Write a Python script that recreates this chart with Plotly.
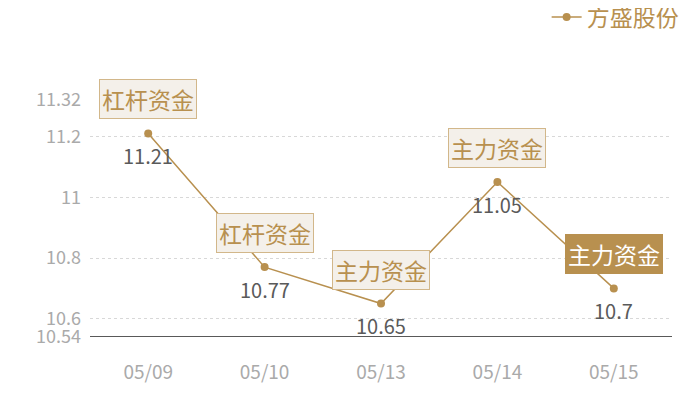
import plotly.graph_objects as go

# data
dates = ["05/09", "05/10", "05/13", "05/14", "05/15"]
prices = [11.21, 10.77, 10.65, 11.05, 10.7]
flow_tags = ["杠杆资金", "杠杆资金", "主力资金", "主力资金", "主力资金"]
y_ticks = [10.54, 10.6, 10.8, 11, 11.2, 11.32]
y_tick_labels = ["10.54", "10.6", "10.8", "11", "11.2", "11.32"]

GOLD = "#b8904f"
FONT = "Noto Sans CJK SC"

fig = go.Figure()
fig.add_trace(
    go.Scatter(
        x=dates,
        y=prices,
        name="方盛股份",
        mode="lines+markers",
        line=dict(color=GOLD, width=1.5),
        marker=dict(color=GOLD, size=8),
        cliponaxis=False,
    )
)

for i, (d, p, tag) in enumerate(zip(dates, prices, flow_tags)):
    # value under the point
    fig.add_annotation(
        x=d,
        y=p,
        text=str(p),
        showarrow=False,
        yshift=-22,
        font=dict(color="#5a5a5a", size=20, family=FONT),
    )
    # tag box above the point, the last one highlighted
    last = i == len(dates) - 1
    fig.add_annotation(
        x=d,
        y=p,
        text=tag,
        showarrow=False,
        yshift=34,
        font=dict(color="white" if last else GOLD, size=23, family=FONT),
        bgcolor=GOLD if last else "#f4f0ea",
        bordercolor=GOLD if last else "#d2b78a",
        borderwidth=1,
        borderpad=2,
    )

# the page body adds an 8px offset, so the figure is 8px smaller
fig.update_layout(
    width=692,
    height=392,
    margin=dict(l=82, r=28, t=92, b=63, autoexpand=False),
    plot_bgcolor="white",
    paper_bgcolor="white",
    font=dict(family=FONT),
    showlegend=True,
    legend=dict(
        x=1.02,
        y=1.35,
        xanchor="right",
        yanchor="middle",
        orientation="h",
        font=dict(color=GOLD, size=23, family=FONT),
        itemwidth=30,
    ),
    xaxis=dict(
        type="category",
        showgrid=False,
        showline=False,
        ticks="",
        tickfont=dict(color="#aaaaaa", size=19, family=FONT),
        ticklabelstandoff=22,
        range=[-0.5, 4.5],
    ),
    yaxis=dict(
        range=[10.54, 11.32],
        tickvals=y_ticks,
        ticktext=y_tick_labels,
        showgrid=True,
        gridcolor="#d8d8d8",
        griddash="dot",
        gridwidth=1,
        zeroline=False,
        showline=False,
        ticks="",
        tickfont=dict(color="#aaaaaa", size=18, family=FONT),
        ticklabelstandoff=8,
    ),
)

# dark baseline along the bottom of the plot
fig.add_shape(
    type="line",
    xref="paper",
    yref="y",
    x0=0,
    x1=1,
    y0=10.54,
    y1=10.54,
    line=dict(color="#222222", width=1.5),
)

fig.write_html("out.html")
